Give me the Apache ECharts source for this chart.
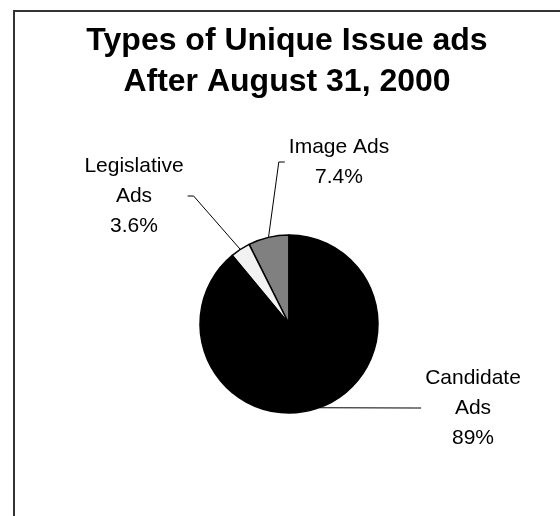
<!DOCTYPE html>
<html>
<head>
<meta charset="utf-8">
<script src="https://cdn.jsdelivr.net/npm/echarts@6/dist/echarts.min.js"></script>
<style>
  html, body { margin: 0; padding: 0; background: #fff; }
  #chart { width: 560px; height: 516px; }
</style>
</head>
<body>
<div id="chart"></div>
<script>
  // data
  let categories = ['Image Ads', 'Legislative Ads', 'Candidate Ads']
  let labelNames = ['Image Ads', 'Legislative\nAds', 'Candidate\nAds']
  let values = [7.4, 3.6, 89]
  let colors = ['#808080', '#f2f2f2', '#000000']

  // where each label sits (centre x, middle y) and which side of the pie it is on
  let labelAnchors = [[339, 162, 'right'], [134, 196, 'left'], [473, 408, 'right']]

  let font = "'Liberation Sans', Arial, sans-serif"
  let myChart = echarts.init(document.getElementById('chart'))

  let option = {
    animation: false,
    graphic: [{
      type: 'rect',
      silent: true,
      shape: { x: 14, y: 11, width: 700, height: 700 },
      style: { fill: 'none', stroke: '#333', lineWidth: 2 }
    }],
    title: {
      text: 'Types of Unique Issue ads\nAfter August 31, 2000',
      left: 287,
      top: 21,
      padding: 0,
      textAlign: 'center',
      textVerticalAlign: 'top',
      textStyle: {
        fontFamily: font,
        fontSize: 32,
        fontWeight: 'bold',
        lineHeight: 41,
        color: '#000'
      }
    },
    series: [{
      type: 'pie',
      center: [289, 324],
      radius: 89,
      startAngle: 90,
      clockwise: false,
      avoidLabelOverlap: false,
      emphasis: { disabled: true },
      itemStyle: { borderColor: '#000', borderWidth: 1.5 },
      label: {
        show: true,
        position: 'outside',
        fontFamily: font,
        fontSize: 21,
        lineHeight: 30,
        color: '#000',
        formatter: function (p) {
          return labelNames[p.dataIndex] + '\n' + p.value + '%'
        }
      },
      labelLine: {
        show: true,
        length: 10,
        length2: 10,
        lineStyle: { color: '#000', width: 1 }
      },
      labelLayout: function (params) {
        let a = labelAnchors[params.dataIndex]
        let half = params.labelRect.width / 2
        let dir = a[2] === 'right' ? -1 : 1
        let end = [a[0] + dir * (half + 4), a[1]]
        let elbow = [end[0] + dir * 6, a[1]]
        return {
          x: a[0],
          y: a[1],
          align: 'center',
          verticalAlign: 'middle',
          labelLinePoints: [params.labelLinePoints[0], elbow, end]
        }
      },
      data: categories.map(function (name, i) {
        return { name: name, value: values[i], itemStyle: { color: colors[i] } }
      })
    }]
  }

  myChart.setOption(option)
</script>
</body>
</html>
